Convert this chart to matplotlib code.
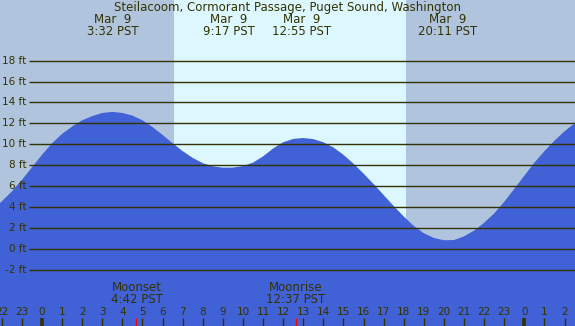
import matplotlib
matplotlib.use("Agg")
import matplotlib.pyplot as plt

# tide heights (ft) every half hour, hours from midnight Mar 9
hours = [-2.5, -2.0, -1.5, -1.0, -0.5, 0.0, 0.5, 1.0, 1.5, 2.0, 2.5, 3.0, 3.5,
         4.0, 4.5, 5.0, 5.5, 6.0, 6.5, 7.0, 7.5, 8.0, 8.5, 9.0, 9.5,
         10.0, 10.5, 11.0, 11.5, 12.0, 12.5, 13.0, 13.5, 14.0, 14.5, 15.0,
         15.5, 16.0, 16.5, 17.0, 17.5, 18.0, 18.5, 19.0, 19.5, 20.0, 20.5,
         21.0, 21.5, 22.0, 22.5, 23.0, 23.5, 24.0, 24.5, 25.0, 25.5, 26.0,
         26.5, 27.0]
heights = [3.7, 4.55, 5.5, 6.6, 7.8, 9.0, 10.1, 11.0, 11.7, 12.3, 12.7, 13.0, 13.1,
           13.0, 12.75, 12.3, 11.65, 10.9, 10.1, 9.35, 8.7, 8.2, 7.9, 7.77, 7.78,
           7.92, 8.25, 8.85, 9.6, 10.2, 10.52, 10.6, 10.5, 10.2, 9.7, 9.0,
           8.15, 7.2, 6.2, 5.15, 4.1, 3.1, 2.2, 1.5, 1.05, 0.83, 0.85,
           1.2, 1.75, 2.5, 3.4, 4.5, 5.75, 7.0, 8.25, 9.35, 10.35, 11.25,
           12.0, 12.6]

# tide extremes shown at the top
event_hours = [3.53, 9.28, 12.92, 20.18]
event_labels = ["3:32 PST", "9:17 PST", "12:55 PST", "20:11 PST"]

# moon events shown at the bottom
moon_hours = [4.70, 12.62]
moon_names = ["Moonset", "Moonrise"]
moon_labels = ["4:42 PST", "12:37 PST"]

sunrise = 6.57
sunset = 18.11

grid_levels = [-2, 0, 2, 4, 6, 8, 10, 12, 14, 16, 18]
tick_hours = list(range(-2, 27))
midnights = [0, 24]

title = "Steilacoom, Cormorant Passage, Puget Sound, Washington"

night = "#b0c4de"
day = "#ddf7ff"
water = "#4161d6"
ink = "#333300"
fs_small = 7.5
fs_big = 8.5

fig = plt.figure(figsize=(5.75, 3.26), dpi=100)
ax = fig.add_axes([0, 0, 1, 1])
x0, x1 = -2.09, 26.52
y0, y1 = -7.37, 23.8
ax.set_xlim(x0, x1)
ax.set_ylim(y0, y1)
ax.axis("off")

ax.axvspan(x0, sunrise, color=night, lw=0, zorder=0)
ax.axvspan(sunrise, sunset, color=day, lw=0, zorder=0)
ax.axvspan(sunset, x1, color=night, lw=0, zorder=0)

ax.fill_between(hours, heights, y0, color=water, lw=0, zorder=1)

ax.hlines(grid_levels, -0.63, x1, colors=ink, lw=1.0, zorder=2)
for lv in grid_levels:
    ax.text(-0.78, lv, f"{lv} ft", ha="right", va="center", fontsize=fs_small,
            color=ink, zorder=3)

tx = ax.get_xaxis_transform()
ax.text(0.5, 0.976, title, transform=ax.transAxes, ha="center", va="center",
        fontsize=fs_big, color=ink)
for h, lab in zip(event_hours, event_labels):
    ax.text(h, 0.940, "Mar  9", transform=tx, ha="center", va="center",
            fontsize=fs_big, color=ink)
    ax.text(h, 0.903, lab, transform=tx, ha="center", va="center",
            fontsize=fs_big, color=ink)

for h, name, lab in zip(moon_hours, moon_names, moon_labels):
    ax.text(h, 0.118, name, transform=tx, ha="center", va="center",
            fontsize=fs_big, color=ink, zorder=3)
    ax.text(h, 0.082, lab, transform=tx, ha="center", va="center",
            fontsize=fs_big, color=ink, zorder=3)

for h in tick_hours:
    ax.text(h, 0.044, str(h % 24), transform=tx, ha="center", va="center",
            fontsize=fs_small, color=ink, zorder=3)
ax.vlines(tick_hours, 0, 0.026, transform=tx, colors=ink, lw=1.0, zorder=3)
ax.vlines(midnights, 0, 0.026, transform=tx, colors=ink, lw=2.6, zorder=3)
ax.vlines(moon_hours, 0, 0.026, transform=tx, colors="red", lw=1.0, zorder=4)

fig.savefig("out.png", dpi=100)
